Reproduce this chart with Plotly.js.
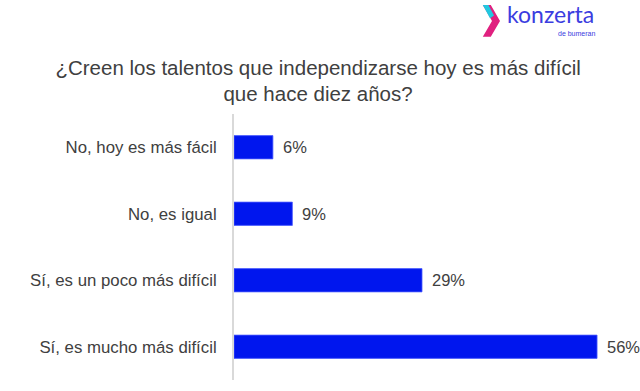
<!DOCTYPE html>
<html>
<head>
<meta charset="utf-8">
<script src="https://cdn.plot.ly/plotly-3.0.1.min.js"></script>
<style>html,body{margin:0;padding:0;background:#fff;}#chart{width:640px;height:391px;}</style>
</head>
<body>
<div id="chart"></div>
<script>
const categories = ["Sí, es mucho más difícil", "Sí, es un poco más difícil", "No, es igual", "No, hoy es más fácil"];
const values = [56, 29, 9, 6];
const valueLabels = ["56%", "29%", "9%", "6%"];

const barColor = "#0016EE";
const textColor = "#404040";
const fontFam = "Liberation Sans, Arial, sans-serif";

const trace = {
  type: "bar",
  orientation: "h",
  y: categories,
  x: values,
  marker: {color: barColor, line: {color: "#4a5cff", width: 0.8}},
  hoverinfo: "none"
};

const labelAnnotations = categories.map((c, i) => ({
  x: values[i], y: c, xref: "x", yref: "y",
  text: valueLabels[i], showarrow: false,
  xanchor: "left", xshift: 8,
  font: {family: fontFam, size: 16.5, color: textColor}
}));

const layout = {
  width: 640, height: 391,
  margin: {l: 234, r: 6, t: 114, b: 11},
  paper_bgcolor: "#fff", plot_bgcolor: "#fff",
  bargap: 0.65,
  showlegend: false,
  title: {
    text: "¿Creen los talentos que independizarse hoy es más difícil<br>que hace diez años?",
    font: {family: fontFam, size: 20.5, color: textColor},
    x: 0.497, xref: "container", xanchor: "center",
    y: 0.809, yref: "container", yanchor: "middle"
  },
  xaxis: {
    range: [0, 61.7], showgrid: false, zeroline: false, showticklabels: false, showline: false, fixedrange: true
  },
  yaxis: {
    showline: true, linecolor: "#d9d9d9", linewidth: 2,
    showgrid: false, zeroline: false, ticks: "", ticklabelstandoff: 12,
    tickfont: {family: fontFam, size: 16.8, color: textColor},
    fixedrange: true
  },
  annotations: labelAnnotations.concat([
    {xref: "paper", yref: "paper", x: 0.68, y: 1.377, xanchor: "left", yanchor: "middle",
     text: "konzerta", showarrow: false, borderpad: 0,
     font: {family: "Lato, Liberation Sans, sans-serif", size: 23, color: "#3B3DE0"}},
    {xref: "paper", yref: "paper", x: 0.905, y: 1.302, xanchor: "right", yanchor: "middle",
     text: "de bumeran", showarrow: false, borderpad: 0,
     font: {family: "Liberation Sans, sans-serif", size: 7, color: "#3B3DE0"}}
  ]),
  shapes: [
    {type: "path", xref: "paper", yref: "paper",
     path: "M 0.622 1.41 L 0.642 1.41 L 0.665 1.35 L 0.642 1.29 L 0.622 1.29 L 0.645 1.35 Z",
     fillcolor: "#E0207F", line: {width: 0}},
    {type: "path", xref: "paper", yref: "paper",
     path: "M 0.622 1.41 L 0.636 1.41 L 0.650 1.37 L 0.640 1.36 Z",
     fillcolor: "#20C8E0", line: {width: 0}}
  ]
};

Plotly.newPlot("chart", [trace], layout, {displayModeBar: false, staticPlot: true});
</script>
</body>
</html>
